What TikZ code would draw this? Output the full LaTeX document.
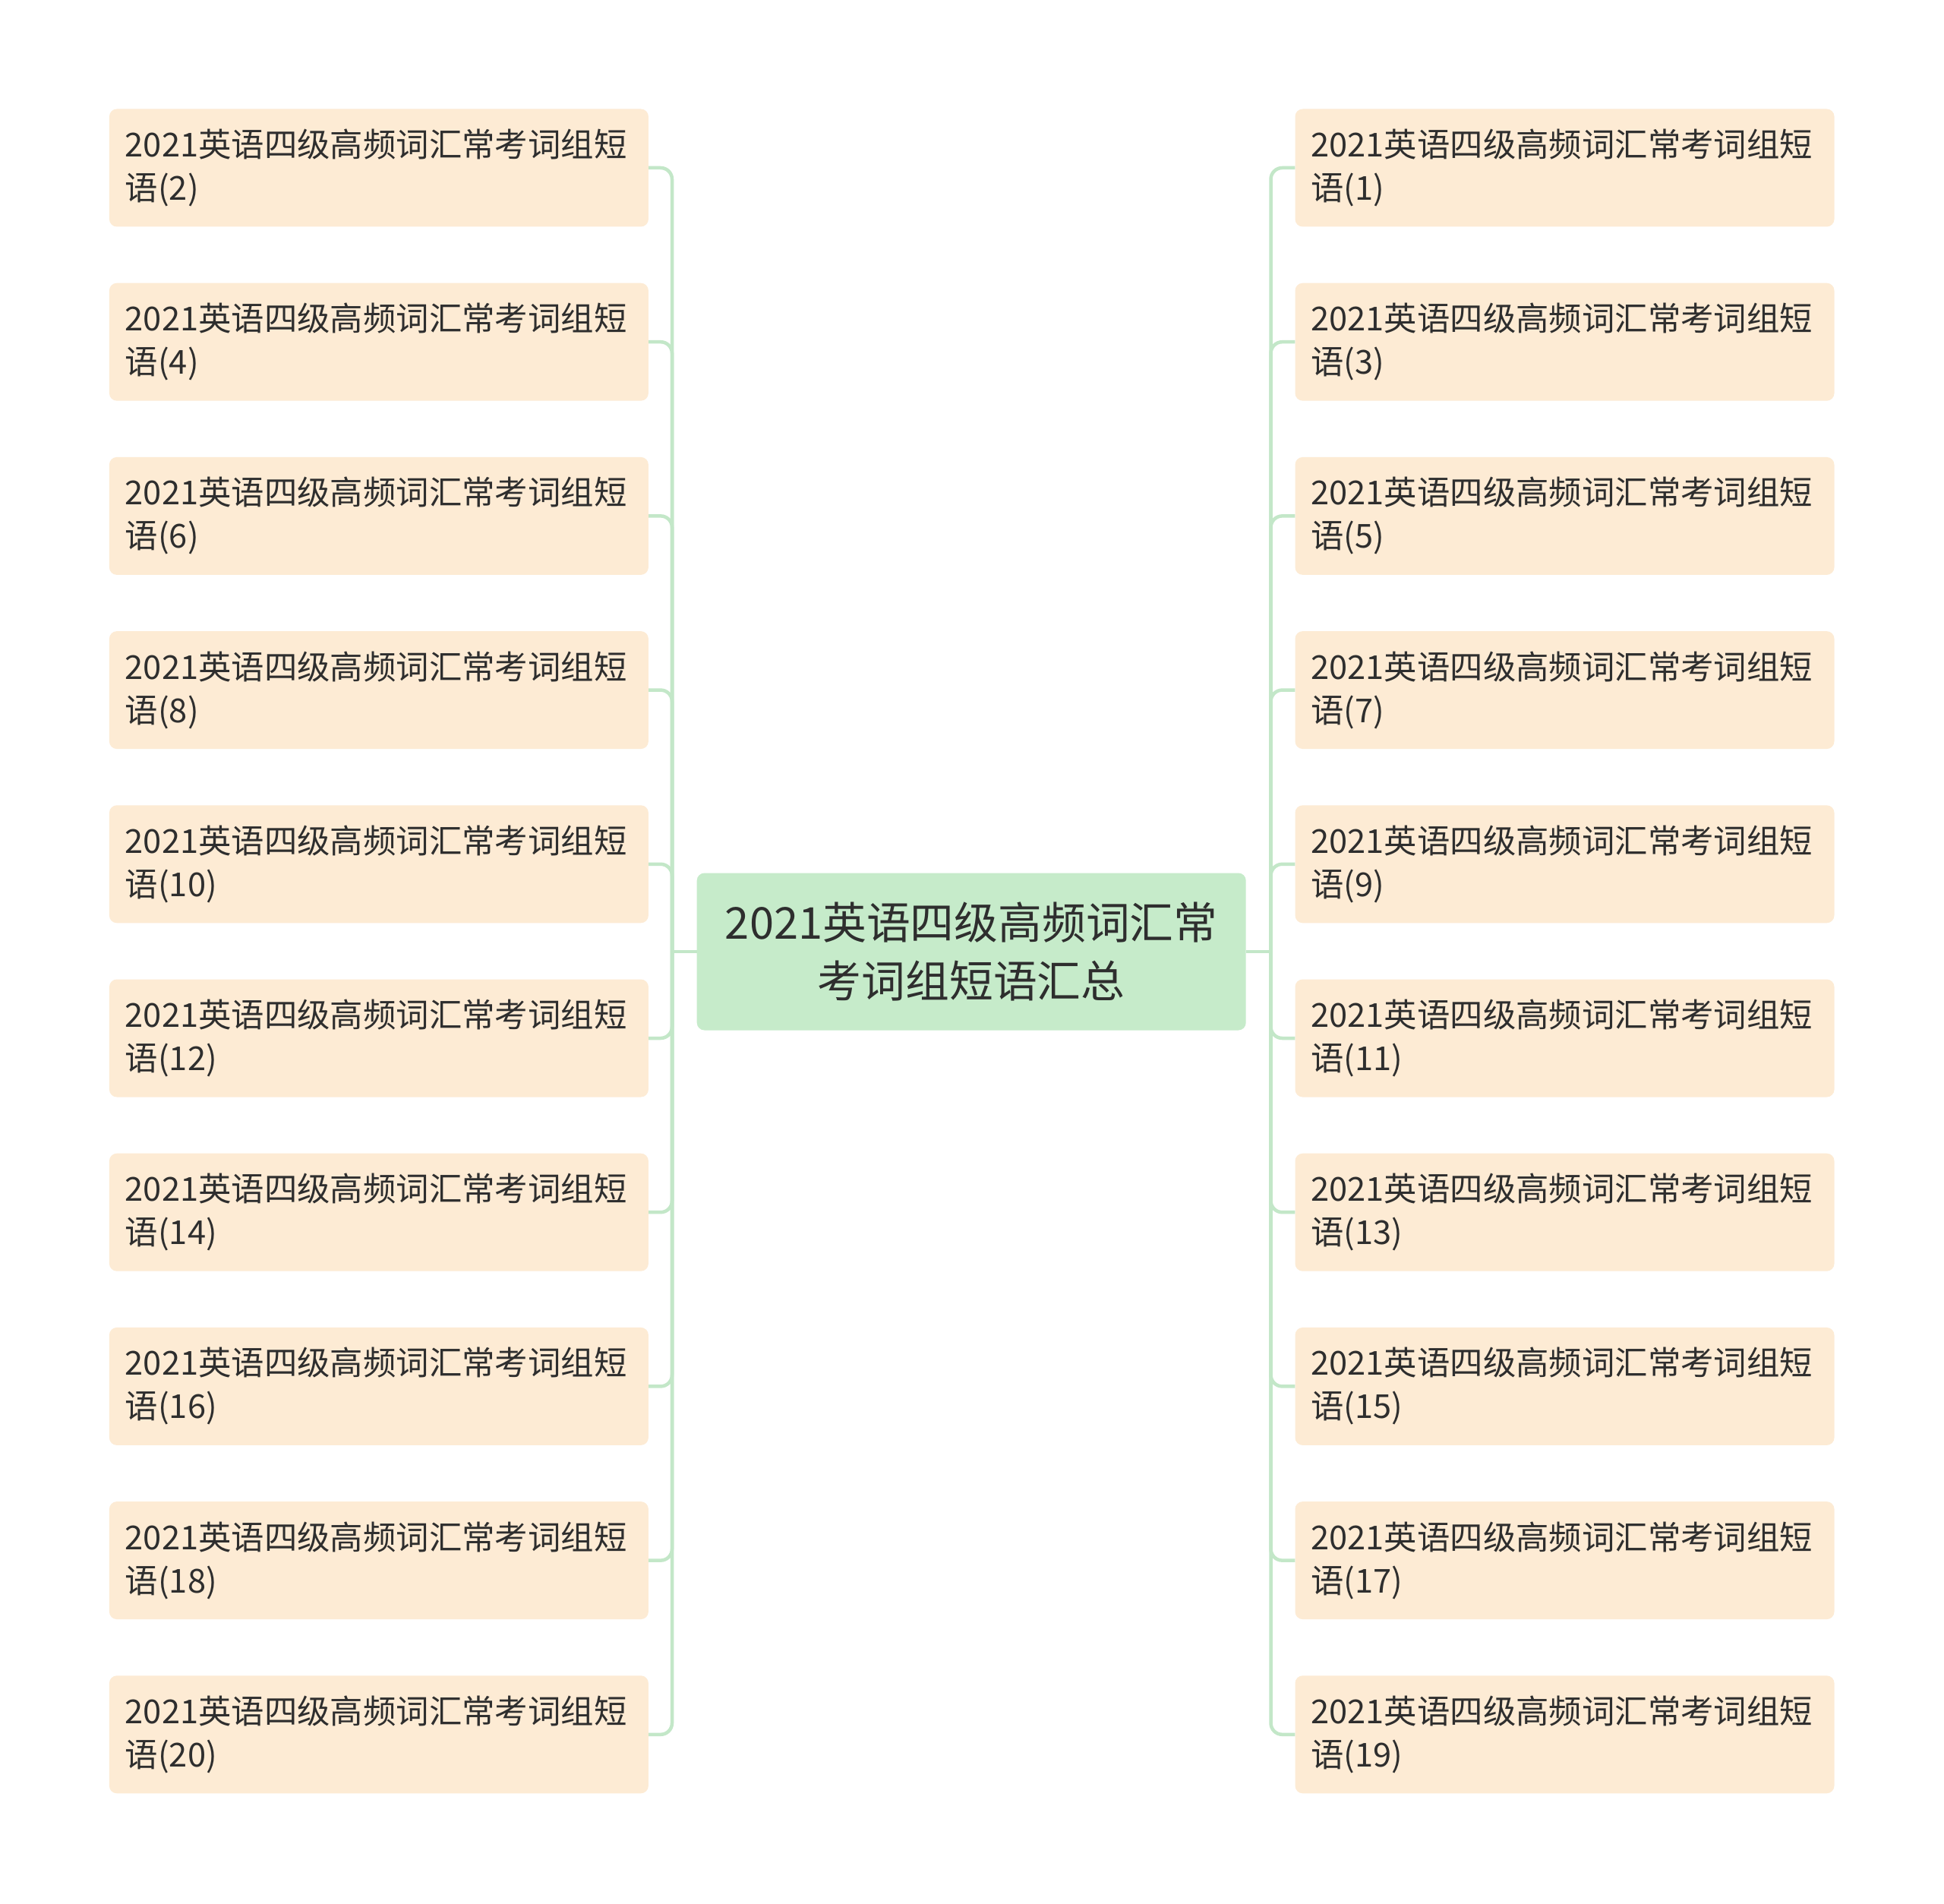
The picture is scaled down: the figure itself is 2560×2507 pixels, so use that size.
\documentclass[tikz,border=0pt]{standalone}
\usepackage{fontspec}
\setmainfont{Noto Sans CJK SC}
\definecolor{leaffill}{HTML}{FDEBD4}
\definecolor{rootfill}{HTML}{C6EBCA}
\definecolor{connc}{HTML}{C3E7C8}
\definecolor{textc}{HTML}{2E2E2E}
\begin{document}
\begin{tikzpicture}[x=1pt,y=-1pt,
  leaf/.style={fill=leaffill, rounded corners=10pt, text width=668pt, inner xsep=21pt, inner ysep=0pt,
    minimum height=155pt, align=left, text=textc, font=\fontsize{43.4}{57}\selectfont},
  root/.style={fill=rootfill, rounded corners=10pt, minimum width=723pt, minimum height=207pt,
    inner sep=0pt, align=center, text=textc, font=\fontsize{57.8}{77}\selectfont},
  conn/.style={draw=connc, line width=4.5pt, rounded corners=15pt}]
\useasboundingbox (0,0) rectangle (2560,2507);
\fill[white] (0,0) rectangle (2560,2507);
\node[root] (c) at (1279.2,1253) {2021英语四级高频词汇常\\考词组短语汇总};
\coordinate (jl) at (885,1253);
\coordinate (jr) at (1673.5,1253);
\draw[conn] (c.west) -- (jl);
\draw[conn] (c.east) -- (jr);
\foreach \i in {0,...,9} {
  \pgfmathtruncatemacro\lnum{2*\i+2}
  \pgfmathtruncatemacro\rnum{2*\i+1}
  \node[leaf] (L\i) at (498.9, 221+229.2*\i) {2021英语四级高频词汇常考词组短\\语(\lnum)};
  \node[leaf] (R\i) at (2060.5, 221+229.2*\i) {2021英语四级高频词汇常考词组短\\语(\rnum)};
  \draw[conn] (jl) |- (L\i.east);
  \draw[conn] (jr) |- (R\i.west);
}
\end{tikzpicture}
\end{document}
